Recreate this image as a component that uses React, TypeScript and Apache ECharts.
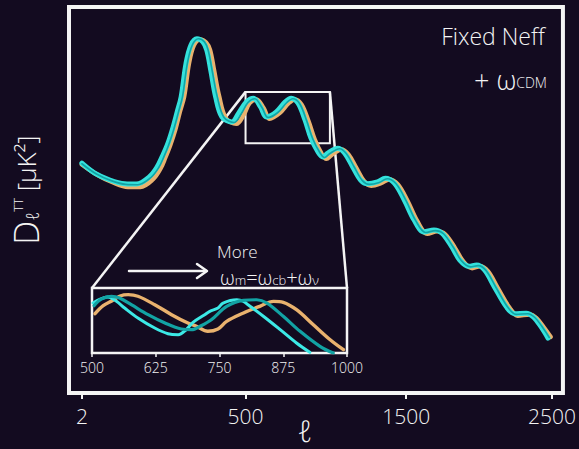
import React, { useEffect, useRef } from "react";
import * as echarts from "echarts";

// ---------- data ----------
const X_TICKS = [2, 500, 1500, 2500];
// hand-drawn axis: relative spacing of the tick marks along the axis
const X_TICK_SPACING = [0, 165, 327, 474];
const INSET_TICKS = [500, 625, 750, 875, 1000];
const BOX_L = [500, 1025];
const BOX_D = [4030, 4850];
const INSET_L = [500, 1000];
const INSET_D = [4016, 4864];

const CYAN_MAIN: number[][] = [
  [2, 3710], [41, 3550], [87, 3440], [132, 3380], [168, 3375], [207, 3490], [231, 3650], [246, 3810],
  [262, 4000], [277, 4240], [292, 4530], [304, 4770], [319, 5310], [334, 5600], [352, 5700], [370, 5650],
  [382, 5520], [394, 5200], [409, 4770], [428, 4450], [458, 4370], [479, 4510], [506, 4690], [549, 4750],
  [593, 4610], [630, 4450], [691, 4530], [747, 4690], [784, 4750], [827, 4670], [870, 4400], [907, 4110],
  [951, 3890], [981, 3810], [1012, 3870], [1074, 3950], [1117, 3870], [1167, 3650], [1216, 3440],
  [1259, 3380], [1321, 3410], [1370, 3470], [1426, 3390], [1488, 3120], [1554, 2800], [1622, 2610],
  [1690, 2640], [1745, 2590], [1813, 2370], [1867, 2160], [1929, 2060], [1983, 2080], [2037, 2000],
  [2105, 1730], [2187, 1410], [2242, 1300], [2323, 1310], [2371, 1250], [2425, 1090], [2473, 910],
];
const TEAL_MAIN: number[][] = [
  [2, 3700], [45, 3540], [91, 3430], [136, 3370], [172, 3365], [212, 3480], [236, 3640], [251, 3805],
  [266, 4000], [281, 4240], [296, 4530], [308, 4770], [323, 5310], [338, 5600], [357, 5700], [375, 5650],
  [386, 5520], [398, 5200], [414, 4770], [434, 4445], [465, 4360], [487, 4500], [515, 4680], [558, 4740],
  [602, 4600], [640, 4440], [701, 4520], [757, 4680], [794, 4740], [837, 4660], [880, 4390], [918, 4100],
  [962, 3880], [992, 3800], [1023, 3860], [1085, 3940], [1128, 3860], [1178, 3640], [1227, 3430],
  [1270, 3370], [1332, 3400], [1381, 3460], [1437, 3380], [1499, 3110], [1565, 2790], [1633, 2600],
  [1701, 2630], [1756, 2580], [1824, 2360], [1878, 2150], [1940, 2050], [1994, 2070], [2048, 1990],
  [2116, 1720], [2198, 1400], [2253, 1290], [2334, 1300], [2382, 1240], [2436, 1080], [2481, 920],
];
const ORANGE_MAIN: number[][] = [
  [2, 3690], [50, 3520], [97, 3400], [142, 3330], [180, 3330], [218, 3450], [241, 3620], [256, 3800],
  [271, 4000], [286, 4240], [300, 4530], [313, 4770], [328, 5310], [343, 5600], [362, 5690], [380, 5640],
  [392, 5520], [404, 5200], [420, 4770], [440, 4430], [472, 4340], [495, 4490], [525, 4670], [568, 4730],
  [612, 4590], [650, 4420], [712, 4510], [768, 4670], [806, 4730], [848, 4650], [892, 4380], [930, 4090],
  [973, 3860], [1003, 3780], [1035, 3840], [1096, 3930], [1140, 3850], [1190, 3630], [1238, 3420],
  [1282, 3350], [1343, 3390], [1392, 3450], [1448, 3370], [1510, 3100], [1576, 2780], [1645, 2580],
  [1712, 2620], [1767, 2570], [1835, 2350], [1890, 2140], [1952, 2030], [2005, 2060], [2060, 1980],
  [2128, 1710], [2210, 1390], [2265, 1270], [2346, 1290], [2393, 1230], [2447, 1070], [2490, 930],
];

const CYAN_INSET: number[][] = [
  [502, 4668], [516, 4720], [531, 4747], [548, 4690], [564, 4603], [590, 4473], [623, 4342], [649, 4268],
  [669, 4255], [684, 4316], [698, 4416], [721, 4516], [731, 4560], [747, 4603], [757, 4668], [784, 4711],
  [797, 4690], [806, 4646], [836, 4495], [869, 4320], [901, 4146], [927, 4025],
];
const TEAL_INSET: number[][] = [
  [504, 4633], [518, 4720], [538, 4756], [554, 4734], [577, 4646], [610, 4516], [643, 4407], [675, 4329],
  [695, 4320], [714, 4372], [734, 4450], [764, 4625], [797, 4703], [823, 4711], [843, 4668], [875, 4495],
  [908, 4299], [947, 4103], [973, 4016],
];
const ORANGE_INSET: number[][] = [
  [506, 4529], [522, 4633], [541, 4703], [555, 4760], [571, 4777], [590, 4756], [623, 4646], [656, 4516],
  [688, 4407], [705, 4364], [727, 4299], [747, 4329], [764, 4429], [797, 4538], [829, 4625], [856, 4690],
  [875, 4677], [901, 4581], [934, 4385], [967, 4189], [993, 4059],
];

// ---------- helpers ----------
function toU(l: number): number {
  const L = X_TICKS;
  const U = X_TICK_SPACING;
  const i = l <= L[1] ? 0 : l <= L[2] ? 1 : 2;
  return U[i] + ((l - L[i]) * (U[i + 1] - U[i])) / (L[i + 1] - L[i]);
}

const BG = "#130b20";
const CYAN = "#34e2dc";
const TEAL = "#12a3a4";
const ORANGE = "#e9b26e";
const WHITE = "#f4f4f4";
const FONT = "'Open Sans', 'DejaVu Sans', sans-serif";

export default function App() {
  const ref = useRef<HTMLDivElement>(null);

  useEffect(() => {
    document.body.style.margin = "0";
    document.body.style.background = BG;
    if (!ref.current) return;
    const chart = echarts.init(ref.current, undefined, { renderer: "svg" });

    const lineSeries = (
      name: string,
      data: number[][],
      color: string,
      width: number,
      idx: number,
      z: number,
      extra: any = {}
    ) => ({
      name,
      type: "line",
      xAxisIndex: idx,
      yAxisIndex: idx,
      data: idx === 0 ? data.map(([l, d]) => [toU(l), d]) : data,
      showSymbol: false,
      smooth: 0.35,
      z,
      lineStyle: { color, width, cap: "round", join: "round" },
      ...extra,
    });

    const mainTicks = X_TICKS.map(toU);

    const option: any = {
      animation: false,
      backgroundColor: BG,
      grid: [
        {
          left: 69,
          right: 12,
          top: 7,
          bottom: 56,
          show: true,
          borderColor: WHITE,
          borderWidth: 4,
          backgroundColor: "transparent",
        },
        {
          left: 92,
          top: 288,
          width: 255,
          height: 65,
          show: true,
          borderColor: WHITE,
          borderWidth: 2.5,
          backgroundColor: BG,
          z: 3,
        },
      ],
      xAxis: [
        {
          type: "value",
          gridIndex: 0,
          min: -13,
          max: 485,
          axisLine: { show: false },
          splitLine: { show: false },
          axisTick: {
            show: true,
            customValues: mainTicks,
            length: 6,
            lineStyle: { color: WHITE, width: 2 },
          },
          axisLabel: {
            customValues: mainTicks,
            color: WHITE,
            fontSize: 21,
            fontFamily: FONT,
            fontWeight: 300,
            margin: 12,
            formatter: (v: number) => {
              const i = mainTicks.findIndex((t) => Math.abs(t - v) < 0.5);
              return i >= 0 ? String(X_TICKS[i]) : "";
            },
          },
        },
        {
          type: "value",
          gridIndex: 1,
          min: INSET_L[0],
          max: INSET_L[1],
          interval: 125,
          z: 3,
          axisLine: { show: false },
          splitLine: { show: false },
          axisTick: {
            show: true,
            customValues: INSET_TICKS,
            length: 4,
            lineStyle: { color: WHITE, width: 1.5 },
          },
          axisLabel: {
            customValues: INSET_TICKS,
            color: WHITE,
            fontSize: 14,
            fontFamily: FONT,
            fontWeight: 300,
            margin: 7,
            showMinLabel: true,
            showMaxLabel: true,
            formatter: (v: number) => String(v),
          },
        },
      ],
      yAxis: [
        { type: "value", gridIndex: 0, min: 32, max: 6208, show: false },
        { type: "value", gridIndex: 1, min: INSET_D[0], max: INSET_D[1], show: false },
      ],
      series: [
        lineSeries("orange", ORANGE_MAIN, ORANGE, 4.5, 0, 2, {
          markArea: {
            silent: true,
            itemStyle: { color: "transparent", borderColor: WHITE, borderWidth: 2 },
            data: [[{ coord: [toU(BOX_L[0]), BOX_D[1]] }, { coord: [toU(BOX_L[1]), BOX_D[0]] }]],
          },
        }),
        lineSeries("cyan", CYAN_MAIN, CYAN, 5, 0, 3),
        lineSeries("teal", TEAL_MAIN, TEAL, 1.6, 0, 4),
        lineSeries("orange-inset", ORANGE_INSET, ORANGE, 3.4, 1, 5),
        lineSeries("cyan-inset", CYAN_INSET, "#3ce9e6", 3, 1, 6),
        lineSeries("teal-inset", TEAL_INSET, TEAL, 3.2, 1, 7),
      ],
    };
    chart.setOption(option);

    const p = (g: number, v: number[]) => chart.convertToPixel({ gridIndex: g } as any, v) as number[];
    const boxTL = p(0, [toU(BOX_L[0]), BOX_D[1]]);
    const boxTR = p(0, [toU(BOX_L[1]), BOX_D[1]]);
    const inTL = p(1, [INSET_L[0], INSET_D[1]]);
    const inTR = p(1, [INSET_L[1], INSET_D[1]]);

    const txt = (x: number, y: number, text: string, fontSize: number, extra: any = {}, rich: any = undefined, elExtra: any = {}) => ({
      type: "text",
      x,
      y,
      z: 10,
      ...elExtra,
      style: {
        text,
        fill: WHITE,
        fontSize,
        fontFamily: FONT,
        fontWeight: 300,
        align: "left",
        verticalAlign: "middle",
        rich,
        ...extra,
      },
    });
    const tok = (fontSize: number, more: any = {}) => ({ fontSize, fontFamily: FONT, fontWeight: 300, fill: WHITE, ...more });

    chart.setOption({
      graphic: [
        {
          type: "line",
          z: 1,
          shape: { x1: boxTL[0], y1: boxTL[1], x2: inTL[0], y2: inTL[1] },
          style: { stroke: WHITE, lineWidth: 2.5 },
        },
        {
          type: "line",
          z: 1,
          shape: { x1: boxTR[0], y1: boxTR[1], x2: inTR[0], y2: inTR[1] },
          style: { stroke: WHITE, lineWidth: 2.5 },
        },
        // arrow
        {
          type: "line",
          z: 10,
          shape: { x1: 129, y1: 271, x2: 206, y2: 271 },
          style: { stroke: WHITE, lineWidth: 2.5, lineCap: "round" },
        },
        {
          type: "polyline",
          z: 10,
          shape: { points: [[197, 264], [207, 271], [197, 278]] },
          style: { stroke: WHITE, lineWidth: 2.5, fill: null, lineCap: "round", lineJoin: "round" },
        },
        txt(217, 251, "More", 17),
        txt(220, 277, "ω{s|m}=ω{s|cb}+ω{s|ν}", 20, {}, { s: tok(13, { padding: [6, 0, 0, 0] }) }),
        txt(493, 36, "Fixed Neff", 23, { align: "center" }),
        txt(474, 79, "+ ω{s|CDM}", 27, {}, { s: tok(14, { padding: [7, 0, 0, 0] }) }),
        txt(305, 430, "ℓ", 30, { align: "center" }),
        txt(
          0,
          0,
          "{d|D}{sub|ℓ}{sup|TT}{n| [μK²]}",
          25,
          { align: "center" },
          {
            d: tok(34),
            sub: tok(18, { padding: [12, 0, 0, 0] }),
            sup: tok(13, { padding: [0, 0, 16, 0] }),
            n: tok(26),
          },
          { x: 26, y: 190, rotation: Math.PI / 2 }
        ),
      ],
    });

    return () => chart.dispose();
  }, []);

  return (
    <div
      ref={ref}
      style={{ position: "fixed", left: 0, top: 0, width: 579, height: 449, background: BG }}
    />
  );
}
